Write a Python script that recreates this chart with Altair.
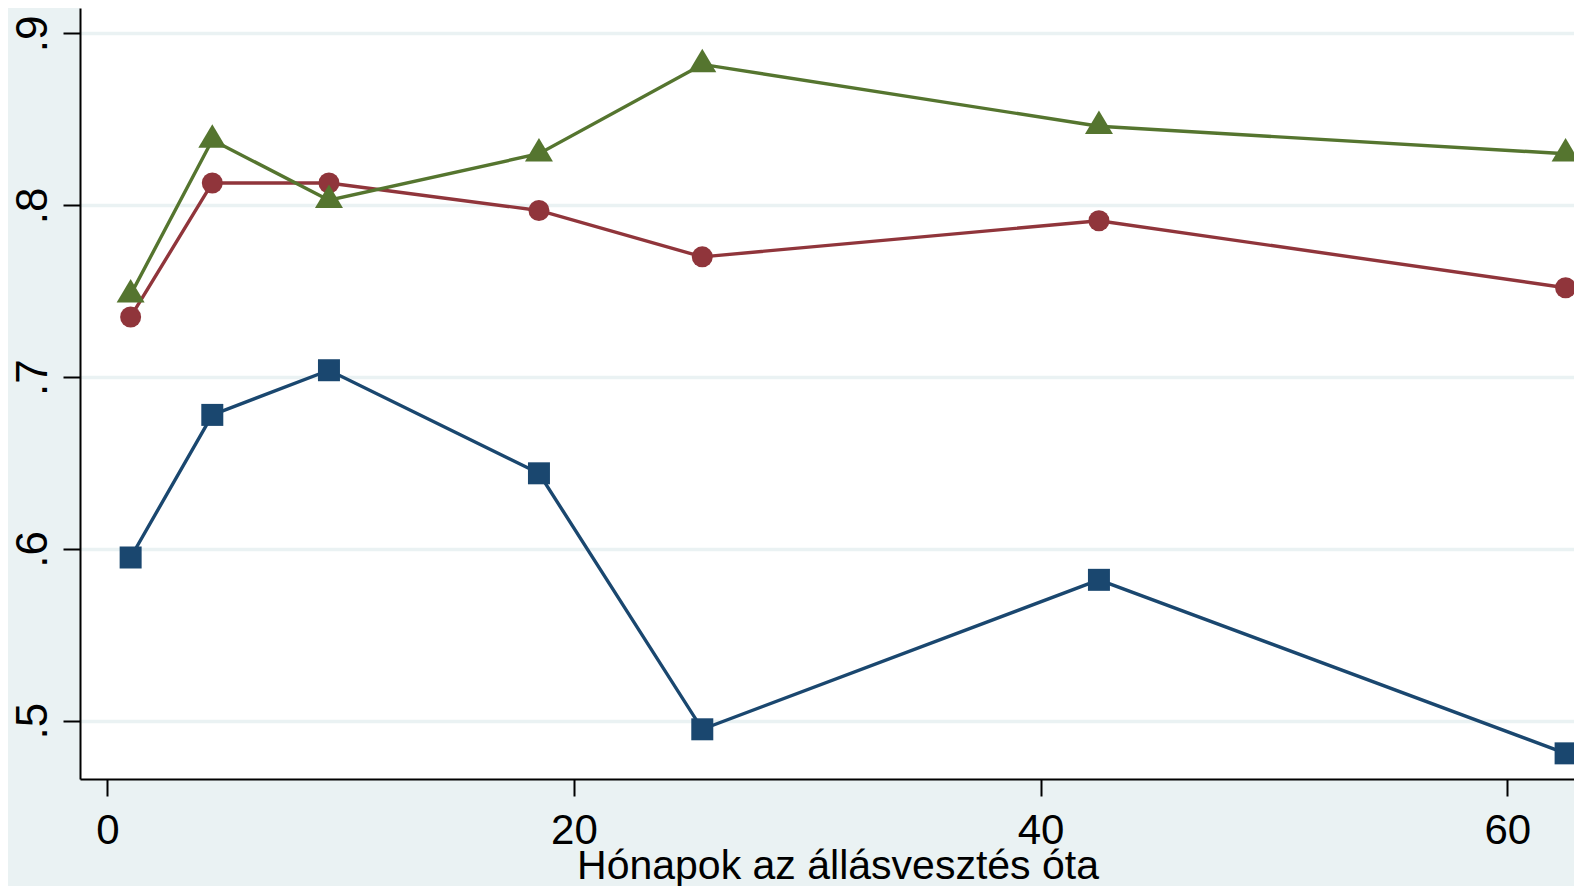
import altair as alt
import pandas as pd

# ---- data ----
months = [1, 4.5, 9.5, 18.5, 25.5, 42.5, 62.5]
series_a = [0.595, 0.678, 0.704, 0.644, 0.495, 0.582, 0.481]   # navy squares
series_b = [0.735, 0.813, 0.813, 0.797, 0.770, 0.791, 0.752]   # maroon circles
series_c = [0.748, 0.838, 0.803, 0.830, 0.882, 0.846, 0.830]   # green triangles
x_ticks = [0, 20, 40, 60]
y_ticks = [0.5, 0.6, 0.7, 0.8, 0.9]
x_title = "Hónapok az állásvesztés óta"

# ---- styling ----
colors = ["#1a476f", "#90353b", "#55752f"]
shapes = ["square", "circle", "M0,-1.12L1,0.56L-1,0.56Z"]
sizes = [484, 441, 784]
BG = "#eaf2f3"
FONT = "Liberation Sans"

W, H = 1494, 771
x_dom = [-1.17, 62.86]
y_dom = [0.46607, 0.91484]

x_enc = alt.X(
    "x:Q",
    scale=alt.Scale(domain=x_dom, nice=False, zero=False),
    axis=alt.Axis(
        values=x_ticks, title=x_title, grid=False,
        labelFontSize=42, labelPadding=14, labelFont=FONT, labelColor="black",
        titleFontSize=41, titleFont=FONT, titleFontWeight="normal", titleColor="black",
        titleBaseline="alphabetic", titleY=99, titleX=757.5, titleAlign="center",
        domainColor="black", domainWidth=2, tickColor="black", tickWidth=2, tickSize=17,
    ),
)
y_enc = alt.Y(
    "y:Q",
    scale=alt.Scale(domain=y_dom, nice=False, zero=False),
    axis=alt.Axis(
        values=y_ticks, title=None, grid=True, gridColor=BG, gridWidth=3.5,
        labelExpr="substring(format(datum.value, '.1f'), 1)",
        labelAngle=270, labelAlign="center", labelBaseline="bottom",
        labelFontSize=44, labelPadding=8, labelFont=FONT, labelColor="black",
        domainColor="black", domainWidth=2, tickColor="black", tickWidth=2, tickSize=17,
    ),
)

layers = []
for vals, col, shp, sz in zip([series_a, series_b, series_c], colors, shapes, sizes):
    df = pd.DataFrame({"x": months, "y": vals})
    base = alt.Chart(df)
    layers.append(base.mark_line(color=col, strokeWidth=3.4).encode(x=x_enc, y=y_enc))
    layers.append(
        base.mark_point(filled=True, opacity=1, color=col, shape=shp, size=sz, strokeWidth=0)
        .encode(x=x_enc, y=y_enc)
    )

chart = (
    alt.layer(*layers)
    .properties(
        width=W, height=H,
        autosize=alt.AutoSizeParams(type="none"),
        padding={"left": 72, "top": 0, "right": 0, "bottom": 107},
        background=BG,
    )
    .configure_view(stroke=None, fill="white")
)

chart.save("out.html", embed_options={"renderer": "svg", "actions": False})
